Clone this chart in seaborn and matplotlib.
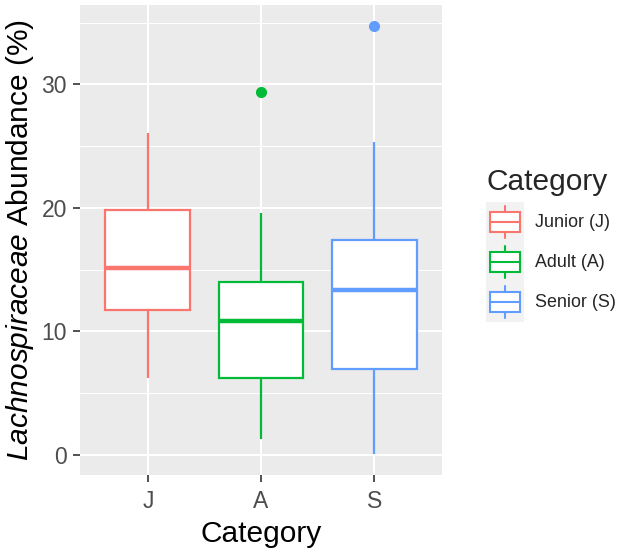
import pandas as pd
import seaborn as sns
import matplotlib.pyplot as plt
from matplotlib.legend_handler import HandlerBase
from matplotlib.patches import Rectangle, Patch
from matplotlib.lines import Line2D
from matplotlib.ticker import MultipleLocator

categories = ['J', 'A', 'S']
legend_labels = ['Junior (J)', 'Adult (A)', 'Senior (S)']
colors = ['#F8766D', '#00BA38', '#619CFF']

# box summaries
whisker_low = [6.2, 1.25, 0.1]
q1 = [11.7, 6.25, 6.95]
median = [15.15, 10.85, 13.35]
q3 = [19.8, 14.0, 17.4]
whisker_high = [26.1, 19.6, 25.3]
outliers = [[], [29.4], [34.7]]

# 9 values per group whose quartiles / whiskers reproduce the summaries above
rows = []
for i, cat in enumerate(categories):
    if outliers[i]:
        tail = [whisker_high[i]] + outliers[i]
    else:
        tail = [q3[i], whisker_high[i]]
    vals = [whisker_low[i], q1[i], q1[i], median[i], median[i], median[i], q3[i]] + tail
    for v in vals:
        rows.append({'Category': cat, 'Abundance': v})
df = pd.DataFrame(rows)

sns.set_theme(style='darkgrid')
plt.rcParams['font.family'] = ['Liberation Sans', 'DejaVu Sans']
plt.rcParams['mathtext.fontset'] = 'custom'
plt.rcParams['mathtext.it'] = 'Liberation Sans:italic'
plt.rcParams['mathtext.rm'] = 'Liberation Sans'

fig = plt.figure(figsize=(6.24, 5.52), dpi=100)
ax = fig.add_axes([80 / 624, 1 - 475 / 552, 362 / 624, 470 / 552])
ax.set_facecolor('#EBEBEB')

for i, cat in enumerate(categories):
    sub = df[df['Category'] == cat]
    sns.boxplot(data=sub, x='Category', y='Abundance', order=categories, ax=ax,
                width=0.75, whis=1.5, showcaps=False, linecolor=colors[i],
                linewidth=1.6, boxprops=dict(facecolor='white'),
                medianprops=dict(linewidth=3.2),
                flierprops=dict(marker='o', markerfacecolor=colors[i],
                                markeredgecolor=colors[i], markersize=7))
for p in ax.patches:
    p.set_facecolor('white')

ax.set_xlim(-0.6, 2.6)
ax.set_ylim(-1.63, 36.43)
ax.yaxis.set_major_locator(MultipleLocator(10))
ax.yaxis.set_minor_locator(MultipleLocator(5))
ax.grid(which='major', color='white', linewidth=1.5)
ax.grid(which='minor', axis='y', color='white', linewidth=0.75)
ax.set_axisbelow(True)
for s in ax.spines.values():
    s.set_visible(False)
ax.tick_params(which='major', bottom=True, left=True, length=5, width=1.2,
               color='#333333', labelcolor='#4D4D4D', labelsize=16.5)
ax.tick_params(axis='x', pad=6)
ax.tick_params(axis='y', pad=4.5)
ax.tick_params(which='minor', left=False, bottom=False)

ax.set_xlabel('Category', fontsize=21.5, color='black', labelpad=4.5)
ax.set_ylabel(r'$\it{Lachnospiraceae}$ Abundance (%)', fontsize=21.5,
              color='black', labelpad=4)


class BoxKey(HandlerBase):
    def create_artists(self, legend, orig_handle, xdescent, ydescent,
                       width, height, fontsize, trans):
        c = orig_handle.get_edgecolor()
        x0, y0 = -xdescent, -ydescent
        bg = Rectangle((x0, y0), width, height, facecolor='#F2F2F2',
                       edgecolor='none', transform=trans)
        cx = x0 + width / 2
        bw = width * 0.8
        box = Rectangle((cx - bw / 2, y0 + height * 0.25), bw, height * 0.5,
                        facecolor='white', edgecolor=c, linewidth=1.5,
                        transform=trans)
        med = Line2D([cx - bw / 2, cx + bw / 2], [y0 + height / 2] * 2,
                     color=c, linewidth=1.5, transform=trans)
        w1 = Line2D([cx, cx], [y0 + height * 0.1, y0 + height * 0.25],
                    color=c, linewidth=1.5, transform=trans)
        w2 = Line2D([cx, cx], [y0 + height * 0.75, y0 + height * 0.9],
                    color=c, linewidth=1.5, transform=trans)
        return [bg, box, med, w1, w2]


handles = [Patch(edgecolor=c, facecolor='white') for c in colors]
leg = fig.legend(handles, legend_labels, title='Category',
                 loc='upper left', bbox_to_anchor=(486 / 624, 1 - 168 / 552),
                 frameon=False, fontsize=12.9, title_fontsize=21.5,
                 handler_map={Patch: BoxKey()}, handlelength=2.12,
                 handleheight=3.06, labelspacing=0, handletextpad=0.6,
                 borderpad=0, borderaxespad=0, alignment='left')
leg._legend_box.sep = 4  # small gap between title and keys

fig.savefig('out.png', dpi=100)
